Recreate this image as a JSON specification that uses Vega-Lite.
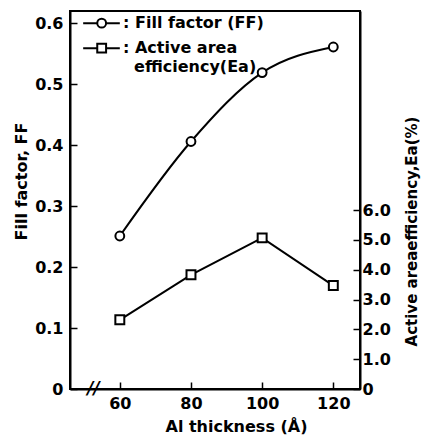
{
  "$schema": "https://vega.github.io/schema/vega-lite/v6.json",
  "autosize": {"type": "none"},
  "width": 290,
  "height": 378,
  "padding": {"left": 70, "top": 11, "right": 68, "bottom": 47},
  "background": "white",
  "datasets": {
    "ff": [
      {"thickness": 60, "FF": 0.251},
      {"thickness": 80, "FF": 0.406},
      {"thickness": 100, "FF": 0.519},
      {"thickness": 120, "FF": 0.561}
    ],
    "ea": [
      {"thickness": 60, "Ea": 2.32},
      {"thickness": 80, "Ea": 3.83},
      {"thickness": 100, "Ea": 5.07},
      {"thickness": 120, "Ea": 3.47}
    ],
    "legendSym": [
      {"x1": 49.7, "x2": 60.0, "xc": 54.9, "y": 0.6, "shape": "circle"},
      {"x1": 49.7, "x2": 60.0, "xc": 54.9, "y": 0.559, "shape": "square"}
    ],
    "legendText": [
      {"x": 60.9, "y": 0.6, "t": ": Fill factor (FF)"},
      {"x": 60.9, "y": 0.559, "t": ": Active area"},
      {"x": 64.0, "y": 0.5286, "t": "efficiency(Ea)"}
    ],
    "breakMark": [{"x": 52.6, "y": 0, "t": "//"}]
  },
  "config": {
    "view": {"stroke": "black", "strokeWidth": 2},
    "font": "DejaVu Sans",
    "axis": {
      "domainColor": "black",
      "domainWidth": 2,
      "tickColor": "black",
      "tickWidth": 1.5,
      "tickSize": -7,
      "grid": false,
      "labelFont": "DejaVu Sans",
      "labelFontWeight": "bold",
      "labelFontSize": 16,
      "labelColor": "black",
      "titleFont": "DejaVu Sans",
      "titleFontWeight": "bold",
      "titleFontSize": 16,
      "titleColor": "black"
    }
  },
  "layer": [
    {
      "layer": [
        {
          "data": {"name": "ff"},
          "mark": {"type": "line", "interpolate": "monotone", "color": "black", "strokeWidth": 2},
          "encoding": {
            "x": {
              "field": "thickness", "type": "quantitative",
              "scale": {"domain": [46, 127.5], "nice": false, "zero": false},
              "axis": {
                "values": [60, 80, 100, 120],
                "title": "Al  thickness  (Å)",
                "titleX": 166, "titleY": 42,
                "titleBaseline": "alphabetic",
                "labelPadding": 13
              }
            },
            "y": {
              "field": "FF", "type": "quantitative",
              "scale": {"domain": [0, 0.62], "nice": false},
              "axis": {
                "orient": "left",
                "values": [0, 0.1, 0.2, 0.3, 0.4, 0.5, 0.6],
                "labelExpr": "datum.value == 0 ? '0' : format(datum.value, '.1f')",
                "labelPadding": 14,
                "title": "Fill  factor, FF",
                "titleAngle": -90,
                "titleX": -44, "titleY": 170,
                "titleAlign": "center",
                "titleBaseline": "alphabetic"
              }
            }
          }
        },
        {
          "data": {"name": "ff"},
          "mark": {"type": "point", "shape": "circle", "filled": true, "fill": "white", "stroke": "black", "strokeWidth": 2, "size": 78, "opacity": 1},
          "encoding": {
            "x": {"field": "thickness", "type": "quantitative"},
            "y": {"field": "FF", "type": "quantitative"}
          }
        },
        {
          "data": {"name": "legendSym"},
          "mark": {"type": "rule", "color": "black", "strokeWidth": 2},
          "encoding": {
            "x": {"field": "x1", "type": "quantitative"},
            "x2": {"field": "x2"},
            "y": {"field": "y", "type": "quantitative"}
          }
        },
        {
          "data": {"name": "legendSym"},
          "mark": {"type": "point", "filled": true, "fill": "white", "stroke": "black", "strokeWidth": 2, "size": 78, "opacity": 1},
          "encoding": {
            "x": {"field": "xc", "type": "quantitative"},
            "y": {"field": "y", "type": "quantitative"},
            "shape": {"field": "shape", "type": "nominal", "scale": {"domain": ["circle", "square"], "range": ["circle", "square"]}, "legend": null}
          }
        },
        {
          "data": {"name": "legendText"},
          "mark": {"type": "text", "align": "left", "baseline": "middle", "font": "DejaVu Sans", "fontWeight": "bold", "fontSize": 16, "color": "black"},
          "encoding": {
            "x": {"field": "x", "type": "quantitative"},
            "y": {"field": "y", "type": "quantitative"},
            "text": {"field": "t"}
          }
        },
        {
          "data": {"name": "breakMark"},
          "mark": {"type": "text", "align": "center", "baseline": "middle", "font": "DejaVu Sans", "fontWeight": "bold", "fontStyle": "italic", "fontSize": 17, "color": "black"},
          "encoding": {
            "x": {"field": "x", "type": "quantitative"},
            "y": {"field": "y", "type": "quantitative"},
            "text": {"field": "t"}
          }
        }
      ]
    },
    {
      "layer": [
        {
          "data": {"name": "ea"},
          "mark": {"type": "line", "color": "black", "strokeWidth": 2},
          "encoding": {
            "x": {"field": "thickness", "type": "quantitative"},
            "y": {
              "field": "Ea", "type": "quantitative",
              "scale": {"domain": [0, 12.68], "nice": false},
              "axis": {
                "orient": "right",
                "values": [0, 1, 2, 3, 4, 5, 6],
                "labelExpr": "datum.value == 0 ? '0' : format(datum.value, '.1f')",
                "labelPadding": 9,
                "title": "Active areaefficiency,Ea(%)",
                "titleFontSize": 15,
                "titleAngle": -90,
                "titleX": 56, "titleY": 220,
                "titleAlign": "center",
                "titleBaseline": "alphabetic"
              }
            }
          }
        },
        {
          "data": {"name": "ea"},
          "mark": {"type": "point", "shape": "square", "filled": true, "fill": "white", "stroke": "black", "strokeWidth": 2, "size": 80, "opacity": 1},
          "encoding": {
            "x": {"field": "thickness", "type": "quantitative"},
            "y": {"field": "Ea", "type": "quantitative"}
          }
        }
      ]
    }
  ],
  "resolve": {"scale": {"y": "independent"}}
}
